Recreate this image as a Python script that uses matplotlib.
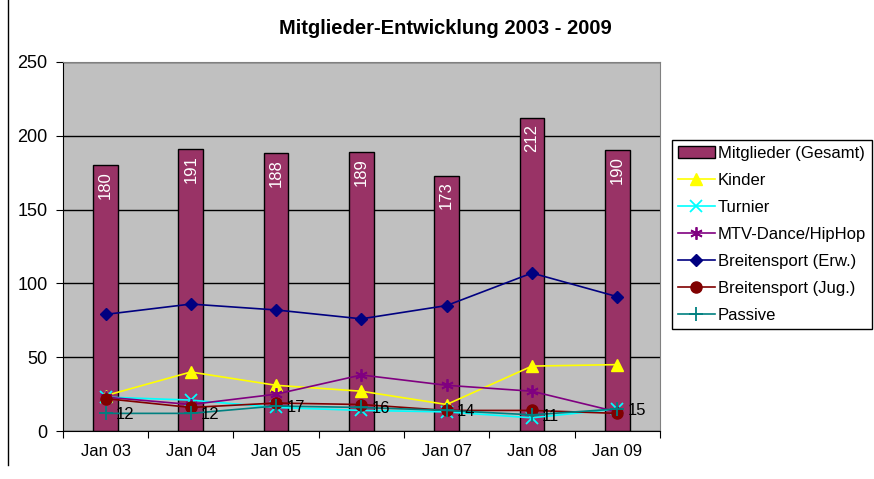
import matplotlib
matplotlib.use("Agg")
import matplotlib.pyplot as plt
import numpy as np
from matplotlib.lines import Line2D

plt.rcParams['font.family'] = ['Liberation Sans', 'DejaVu Sans']

# data
months = ["Jan 03", "Jan 04", "Jan 05", "Jan 06", "Jan 07", "Jan 08", "Jan 09"]
gesamt = [180, 191, 188, 189, 173, 212, 190]
kinder = [24, 40, 31, 27, 18, 44, 45]
turnier = [23, 21, 16, 14, 13, 9, 15]
mtv = [23, 18, 25, 38, 31, 27, 13]
breiten_erw = [79, 86, 82, 76, 85, 107, 91]
breiten_jug = [22, 16, 19, 18, 14, 14, 12]
passive = [12, 12, 17, 16, 14, 11, 15]

fig = plt.figure(figsize=(8.74, 4.79), dpi=100)
ax = fig.add_axes([0.072, 0.100, 0.683, 0.771])
ax.set_facecolor("#C0C0C0")

x = np.arange(len(months))
ax.bar(x, gesamt, width=0.29, color="#993366", edgecolor="black",
       linewidth=1.0, label="Mitglieder (Gesamt)", zorder=2)
for xi, v in zip(x, gesamt):
    ax.text(xi, v - 4, str(v), rotation=90, color="white", ha="center",
            va="top", fontsize=12, zorder=5)

ax.plot(x, kinder, color="#FFFF00", marker="^", markersize=8, lw=1.2,
        label="Kinder", zorder=3)
ax.plot(x, turnier, color="#00FFFF", marker="x", markersize=8, mew=1.3, lw=1.2,
        label="Turnier", zorder=3)
ax.plot(x, mtv, color="#800080", marker=(6, 2, 0), markersize=9, mew=1.3, lw=1.2,
        label="MTV-Dance/HipHop", zorder=3)
ax.plot(x, breiten_erw, color="#000080", marker="D", markersize=6.5, lw=1.2,
        label="Breitensport (Erw.)", zorder=3)
ax.plot(x, breiten_jug, color="#800000", marker="o", markersize=8, lw=1.2,
        label="Breitensport (Jug.)", zorder=3)
ax.plot(x, passive, color="#008080", marker="+", markersize=10, mew=1.3, lw=1.2,
        label="Passive", zorder=3)
for xi, v in zip(x, passive):
    ax.text(xi + 0.12, v - 1, str(v), fontsize=12, ha="left", va="center",
            color="black", zorder=5)

ax.set_xlim(-0.5, len(months) - 0.5)
ax.set_ylim(0, 250)
ax.set_yticks(range(0, 251, 50))
ax.yaxis.grid(True, color="black", lw=1.0, zorder=1)
ax.set_axisbelow(True)

# ticks between categories like Excel
ax.set_xticks(np.arange(-0.5, len(months), 1.0))
ax.set_xticklabels([])
ax.set_xticks(x, minor=True)
ax.set_xticklabels(months, minor=True, fontsize=12)
ax.tick_params(axis="x", which="minor", length=0, pad=9)
ax.tick_params(axis="x", which="major", length=5, direction="out")
ax.tick_params(axis="y", length=5, direction="out", labelsize=13, pad=6)

for side in ["top", "right"]:
    ax.spines[side].set_color("#808080")
ax.spines["left"].set_color("black")
ax.spines["bottom"].set_color("black")

fig.text(445 / 874, 1 - 28 / 479, "Mitglieder-Entwicklung 2003 - 2009",
         fontsize=14.5, fontweight="bold", ha="center", va="center")

# bar entry first, as in the original legend
handles, labels = ax.get_legend_handles_labels()
handles = handles[-1:] + handles[:-1]
labels = labels[-1:] + labels[:-1]
leg = fig.legend(handles, labels, loc="upper left",
                 bbox_to_anchor=(672 / 874, 1 - 140 / 479),
                 fontsize=12, frameon=True, fancybox=False, edgecolor="black",
                 framealpha=1, handlelength=2.2, borderpad=0.35, labelspacing=0.72,
                 handletextpad=0.2, borderaxespad=0)
leg.get_frame().set_linewidth(1.0)

fig.add_artist(Line2D([8 / 874, 8 / 874], [0.03, 1.0], color="black", lw=1.0))

fig.savefig("out.png", dpi=100)
